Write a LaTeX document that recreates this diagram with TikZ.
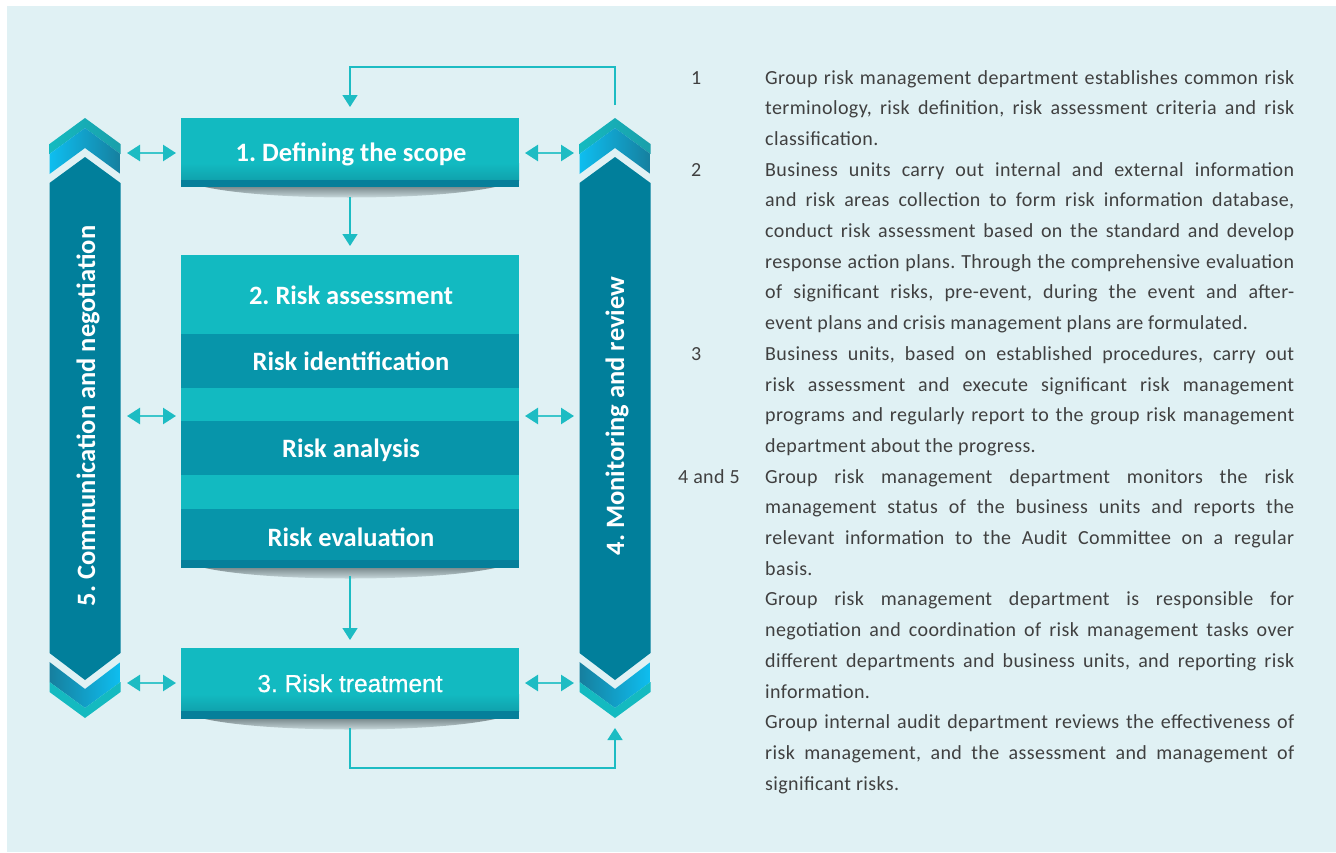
\documentclass[tikz,border=0pt]{standalone}
\usepackage{fontspec}
\setmainfont{Carlito}
\newfontfamily\bodyf[LetterSpace=2.0]{Carlito}
\newfontfamily\arialf[FakeBold=0.8]{Liberation Sans}
\usetikzlibrary{arrows.meta}
\frenchspacing
\definecolor{bg}{HTML}{E0F1F4}
\definecolor{boxteal}{HTML}{12BAC1}
\definecolor{boxtealdk}{HTML}{10A2AD}
\definecolor{band}{HTML}{0795AA}
\definecolor{strip}{HTML}{067F9A}
\definecolor{pillar}{HTML}{017F9B}
\definecolor{cyanb}{HTML}{0EBEF0}
\definecolor{blued}{HTML}{167F9E}
\definecolor{capL}{HTML}{14BAC0}
\definecolor{capR}{HTML}{1A9FAA}
\definecolor{conc}{HTML}{1DBCC3}
\definecolor{dblc}{HTML}{3CC6CB}
\definecolor{txt}{HTML}{404040}
\definecolor{shad}{HTML}{7E8E91}
\newcommand{\mypillar}[1]{%
  \shade[left color=capL, right color=capR] ({#1-35.5},144) -- (#1,118) -- ({#1+35.5},144) -- ({#1+35.5},154) -- (#1,128) -- ({#1-35.5},154) -- cycle;
  \shade[left color=cyanb, right color=blued] ({#1-35.5},154) -- (#1,128) -- ({#1+35.5},154) -- ({#1+35.5},174) -- (#1,148) -- ({#1-35.5},174) -- cycle;
  \fill[pillar] ({#1-35.5},183) -- (#1,157) -- ({#1+35.5},183) -- ({#1+35.5},653) -- (#1,680) -- ({#1-35.5},653) -- cycle;
  \shade[left color=blued, right color=cyanb] ({#1-35.5},662) -- (#1,689) -- ({#1+35.5},662) -- ({#1+35.5},682) -- (#1,708) -- ({#1-35.5},682) -- cycle;
  \fill[capL] ({#1-35.5},682) -- (#1,708) -- ({#1+35.5},682) -- ({#1+35.5},692) -- (#1,718) -- ({#1-35.5},692) -- cycle;
}
\newcommand{\boxshadow}[1]{%
  \shade[top color=shad, bottom color=bg] (205,#1) .. controls (270,{#1+14}) and (430,{#1+14}) .. (495,#1) -- cycle;
}
\newcommand{\bjl}[2]{\node[body] (l#1) at (765,{84+30.7*(#1-1)}) {\makebox[529pt][s]{#2}};}
\newcommand{\brl}[2]{\node[body] (l#1) at (765,{84+30.7*(#1-1)}) {#2};}
\begin{document}
\frenchspacing
\begin{tikzpicture}[x=1pt,y=-1pt,
  boxn/.style={fill=boxteal, draw=none, inner sep=0pt, outer sep=0pt},
  lbl/.style={text=white, font=\bfseries\fontsize{26.5}{30}\selectfont, inner sep=0pt, anchor=base},
  plbl/.style={text=white, font=\bfseries\fontsize{26.5}{30}\selectfont, inner sep=0pt, rotate=90},
  body/.style={text=txt, font=\bodyf\fontsize{20}{24}\selectfont, inner sep=0pt, anchor=base west},
  conn/.style={draw=conc, line width=1.5pt, -{Triangle[width=15pt,length=12pt]}},
  dbl/.style={draw=dblc, line width=2.5pt, {Triangle[width=16pt,length=13pt,color=conc]}-{Triangle[width=16pt,length=13pt,color=conc]}}]
\useasboundingbox (0,0) rectangle (1336,852);
\fill[white] (0,0) rectangle (1336,852);
\fill[bg] (7,6) rectangle (1336,852);

% pillars
\mypillar{85}
\mypillar{615}
\coordinate (rtop) at (615,118);
\coordinate (rbot) at (615,718);
\node[plbl] (p5) at (88,416) {5. Communication and negotiation};
\node[plbl] (p4) at (617,416) {4. Monitoring and review};

% shadows
\boxshadow{187}
\boxshadow{568}
\boxshadow{719}

% box 1
\node[boxn, minimum width=338pt, minimum height=69pt] (b1) at (350,152.5) {};
\shade[top color=boxteal, bottom color=boxtealdk] (181,163) rectangle (519,180);
\fill[strip] (181,180) rectangle (519,187);
\node[lbl] (t1) at (351,161.5) {1. Defining the scope};

% box 2
\node[boxn, minimum width=338pt, minimum height=313pt] (b2) at (350,411.5) {};
\fill[band] (181,334) rectangle (519,388);
\fill[band] (181,421) rectangle (519,475);
\fill[band] (181,509) rectangle (519,560);
\fill[strip] (181,560) rectangle (519,568);
\node[lbl] (t2) at (351,304) {2. Risk assessment};
\node[lbl] (t2a) at (351,370.5) {Risk identification};
\node[lbl] (t2b) at (351,457.5) {Risk analysis};
\node[lbl] (t2c) at (351,546) {Risk evaluation};

% box 3
\node[boxn, minimum width=338pt, minimum height=71pt] (b3) at (350,683.5) {};
\shade[top color=boxteal, bottom color=boxtealdk] (181,694) rectangle (519,711);
\fill[strip] (181,711) rectangle (519,719);
\node[text=white, font=\arialf\fontsize{24.5}{28}\selectfont, inner sep=0pt, anchor=base] (t3) at (350,692) {3. Risk treatment};

% connectors
\coordinate (ctop) at (0,67);
\coordinate (cbot) at (0,768);
\draw[conn, shorten <=13pt, shorten >=11pt] (rtop) -- (rtop |- ctop) -- (b1.north |- ctop) -- (b1.north);
\draw[conn, shorten <=10pt, shorten >=9pt] (b1.south) -- (b2.north);
\draw[conn, shorten <=8pt, shorten >=8pt] (b2.south) -- (b3.north);
\draw[conn, shorten <=9pt, shorten >=10pt] (b3.south) -- (b3.south |- cbot) -- (rbot |- cbot) -- (rbot);

% double arrows
\coordinate (lp1) at (120.5,153);
\coordinate (lp2) at (120.5,416);
\coordinate (lp3) at (120.5,683);
\coordinate (rp1) at (579.5,153);
\coordinate (rp2) at (579.5,416);
\coordinate (rp3) at (579.5,683);
\draw[dbl, shorten <=6.5pt, shorten >=5pt] (lp1) -- (b1.west |- lp1);
\draw[dbl, shorten <=6.5pt, shorten >=5pt] (lp2) -- (b2.west |- lp2);
\draw[dbl, shorten <=6.5pt, shorten >=5pt] (lp3) -- (b3.west |- lp3);
\draw[dbl, shorten <=6pt, shorten >=5.5pt] (b1.east |- rp1) -- (rp1);
\draw[dbl, shorten <=6pt, shorten >=5.5pt] (b2.east |- rp2) -- (rp2);
\draw[dbl, shorten <=6pt, shorten >=5.5pt] (b3.east |- rp3) -- (rp3);

% numbers
\node[body] (n1) at (691,84) {1};
\node[body] (n2) at (691,{84+30.7*3}) {2};
\node[body] (n3) at (691,{84+30.7*9}) {3};
\node[body] (n45) at (678,{84+30.7*13}) {4 and 5};

% body text
\bjl{1}{Group risk management department establishes common risk}
\bjl{2}{terminology, risk definition, risk assessment criteria and risk}
\brl{3}{classification.}
\bjl{4}{Business units carry out internal and external information}
\bjl{5}{and risk areas collection to form risk information database,}
\bjl{6}{conduct risk assessment based on the standard and develop}
\bjl{7}{response action plans. Through the comprehensive evaluation}
\bjl{8}{of significant risks, pre-event, during the event and after-}
\brl{9}{event plans and crisis management plans are formulated.}
\bjl{10}{Business units, based on established procedures, carry out}
\bjl{11}{risk assessment and execute significant risk management}
\bjl{12}{programs and regularly report to the group risk management}
\brl{13}{department about the progress.}
\bjl{14}{Group risk management department monitors the risk}
\bjl{15}{management status of the business units and reports the}
\bjl{16}{relevant information to the Audit Committee on a regular}
\brl{17}{basis.}
\bjl{18}{Group risk management department is responsible for}
\bjl{19}{negotiation and coordination of risk management tasks over}
\bjl{20}{different departments and business units, and reporting risk}
\brl{21}{information.}
\bjl{22}{Group internal audit department reviews the effectiveness of}
\bjl{23}{risk management, and the assessment and management of}
\brl{24}{significant risks.}
\end{tikzpicture}
\end{document}
